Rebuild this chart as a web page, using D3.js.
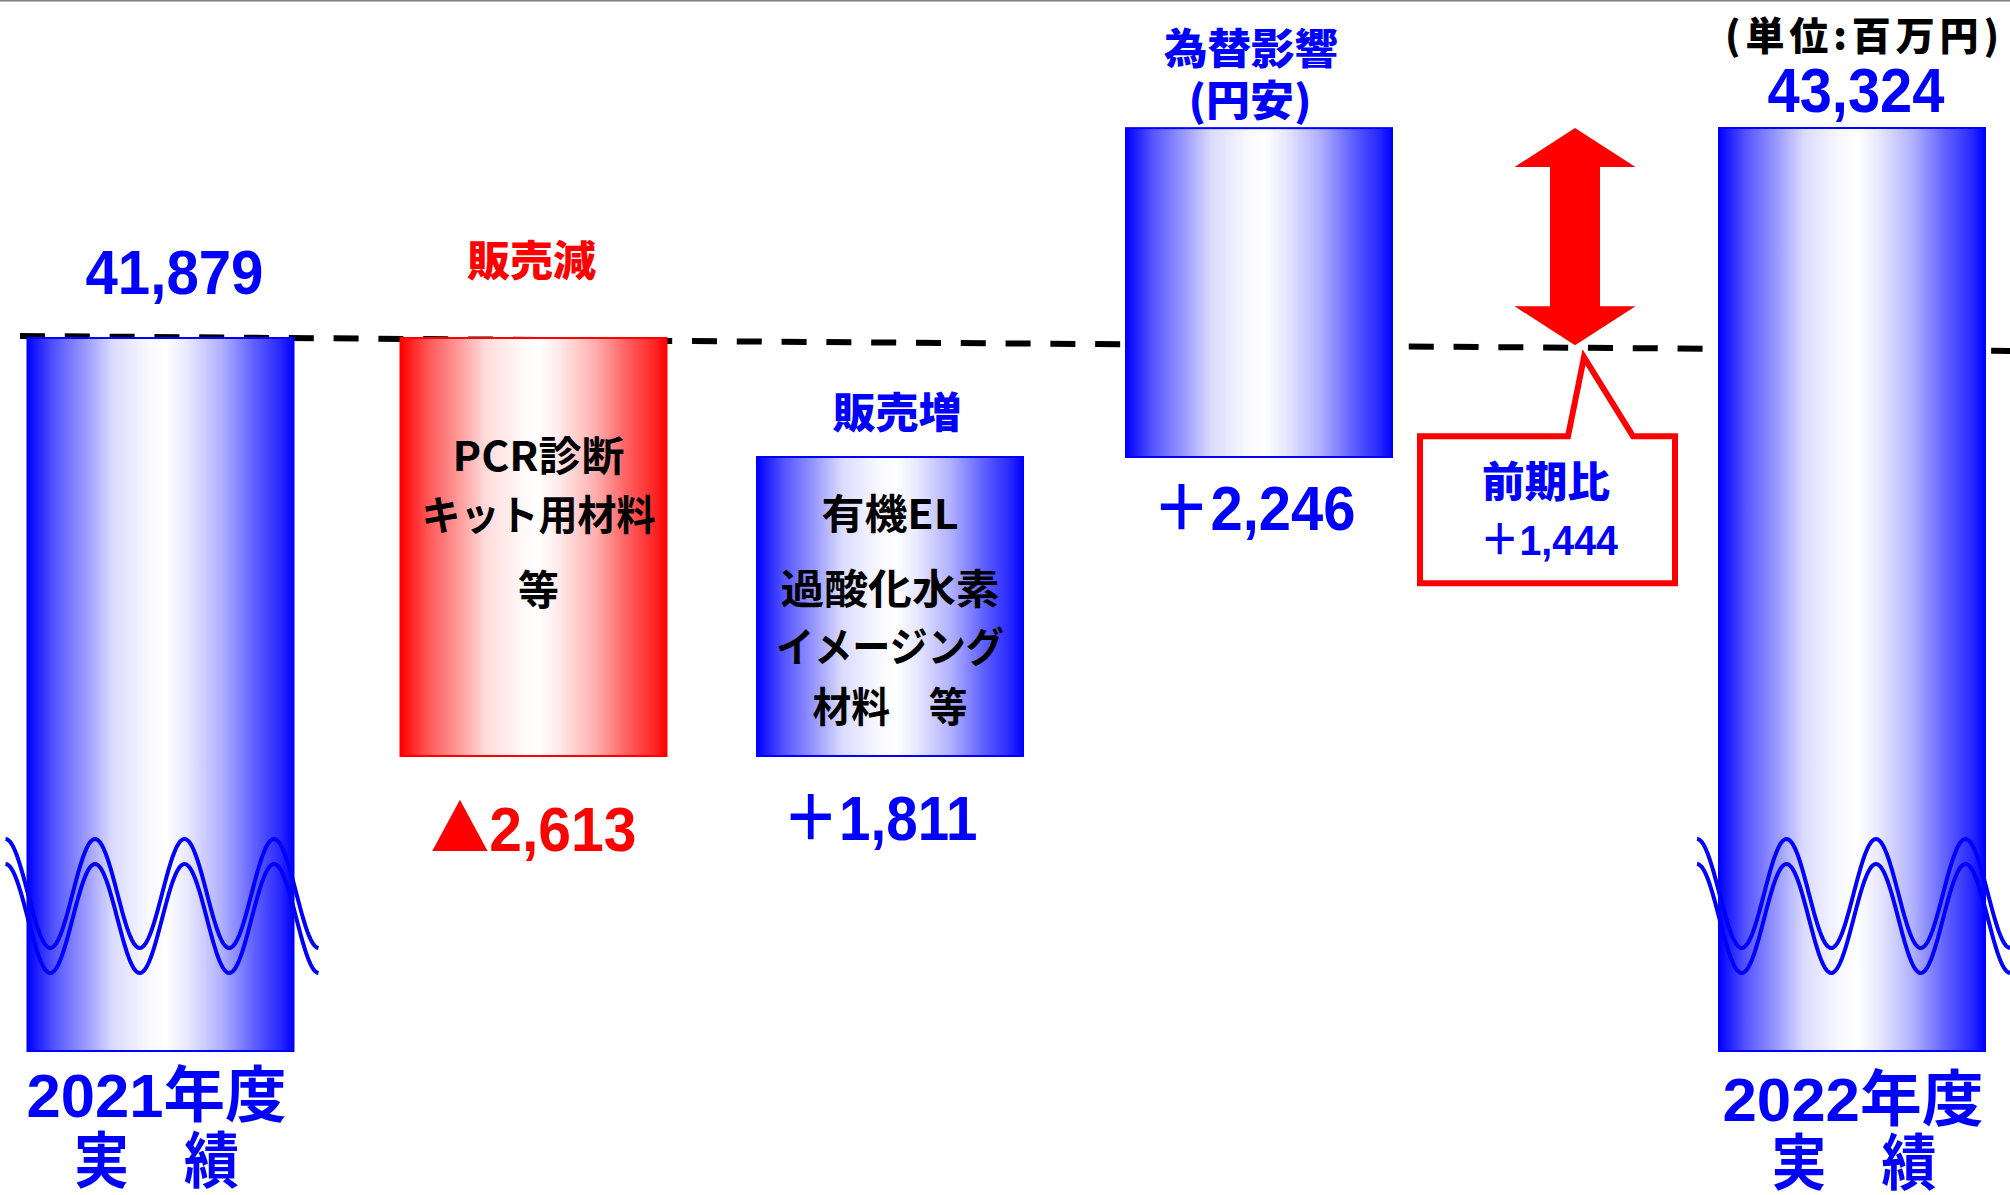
<!DOCTYPE html>
<html><head><meta charset="utf-8">
<script src="https://cdn.jsdelivr.net/npm/d3@7"></script>
<style>html,body{margin:0;padding:0;background:#fff;overflow:hidden}</style>
</head><body>
<svg id="c" width="2010" height="1195"></svg>
<script>
// ---------------- data ----------------
const categories   = ["2021年度実績", "販売減", "販売増", "為替影響", "2022年度実績"];
const kinds        = ["total", "delta", "delta", "delta", "total"];
const values       = [41879, -2613, 1811, 2246, 43324];
const valueLabels  = ["41,879", "▲2,613", "＋1,811", "＋2,246", "43,324"];
const headerLabels = [[], ["販売減"], ["販売増"], ["為替影響", "(円安)"], []];
const bottomLabels = [["2021年度", "実　績"], [], [], [], ["2022年度", "実　績"]];
const detailLines  = [[], ["PCR診断", "キット用材料", "等"], ["有機EL", "過酸化水素", "イメージング", "材料　等"], [], []];
const changeLabels = ["前期比", "＋1,444"];
const unitLabel    = "(単位:百万円)";

// ---------------- layout / style ----------------
const W = 2010, H = 1195;
const BLUE = "#0000ff", RED = "#ff0000";
const NUM_FONT = "'Liberation Sans','Arial','Noto Sans CJK JP',sans-serif";
const CJK_FONT = "'Noto Sans CJK JP','Noto Sans CJK SC',sans-serif";
const barW = 266;
const brokenBase = 1051;
const valuePos = [
  {dx: 14, dy: -44, at: "top", len: 178},
  {dx: 0,  dy: 95,  at: "bottom", len: 206},
  {dx: -10, dy: 84, at: "bottom", len: 195},
  {dx: -5, dy: 73,  at: "bottom", len: 203},
  {dx: 4,  dy: -16, at: "top", len: 177}
];
const headerPos = [
  [], [{dx: -2, dy: -62, len: 129, size: 42}],
  [{dx: 7, dy: -29, len: 129, size: 42}],
  [{dx: -8, dy: -64, len: 174, size: 42}, {dx: -9, dy: -12, len: 123, size: 42}], []
];
const detailPos = [
  [], [{dx: 5, dy: 133, len: 172}, {dx: 5, dy: 192, len: 234}, {dx: 5, dy: 267, len: 0}],
  [{dx: 0, dy: 72, len: 137}, {dx: 0, dy: 147, len: 219}, {dx: 0, dy: 205, len: 228}, {dx: 0, dy: 265, len: 155}],
  [], []
];
const bottomPos = [
  [{dx: -4, y: 1117, len: 260}, {dx: -4, y: 1183, len: 165}], [], [], [],
  [{dx: 1, y: 1121, len: 261}, {dx: 2, y: 1185, len: 165}]
];

// ---------------- waterfall ----------------
let run = 0;
const bars = categories.map((c, i) => {
  if (kinds[i] === "total") { run = values[i]; return {c, i, kind: "total", lo: null, hi: values[i]}; }
  const a = run, b = run + values[i]; run = b;
  return {c, i, kind: values[i] < 0 ? "down" : "up", lo: Math.min(a, b), hi: Math.max(a, b)};
});

// scales (hand-drawn original is not strictly proportional: piecewise linear)
const yScale = d3.scaleLinear()
  .domain([bars[1].lo, bars[2].hi, bars[0].hi, bars[4].hi])
  .range([756, 457, 338, 128]);
const xScale = d3.scaleOrdinal()
  .domain([...categories, changeLabels[0]])
  .range([160.5, 533.5, 890, 1259, 1852, 1575]);

const svg = d3.select("#c");
const defs = svg.append("defs");
function grad(id, col) {
  const g = defs.append("linearGradient").attr("id", id).attr("x1", 0).attr("x2", 1).attr("y1", 0).attr("y2", 0);
  const stops = [[0, 0], [0.1, 0.33], [0.23, 0.63], [0.32, 0.86], [0.45, 0.97], [0.52, 1], [0.6, 0.91], [0.73, 0.69], [0.85, 0.38], [0.95, 0.16], [1, 0]];
  stops.forEach(([o, t]) => g.append("stop").attr("offset", o).attr("stop-color", d3.interpolateRgb(col, "#ffffff")(t)));
}
grad("gBlue", BLUE); grad("gRed", RED);

svg.append("rect").attr("x", 0).attr("y", 0).attr("width", W).attr("height", 1.5).attr("fill", "#7f7f7f");

// reference dashed line at the 2021 level (slightly sloped as in the original)
const baseY = yScale(values[0]);
const dashY = x => baseY - 2 + (x - 20) / (W - 20) * 15;
svg.append("line").attr("x1", 20).attr("x2", W).attr("y1", dashY(20)).attr("y2", dashY(W))
  .attr("stroke", "#000").attr("stroke-width", 6).attr("stroke-dasharray", "25,19.8");

// bars
svg.selectAll("rect.bar").data(bars).join("rect").attr("class", "bar")
  .attr("x", d => xScale(d.c) - barW / 2)
  .attr("y", d => yScale(d.hi))
  .attr("width", barW)
  .attr("height", d => (d.lo === null ? brokenBase : yScale(d.lo)) - yScale(d.hi))
  .attr("fill", d => d.kind === "down" ? "url(#gRed)" : "url(#gBlue)")
  .attr("stroke", d => d.kind === "down" ? RED : BLUE)
  .attr("stroke-width", 2);

// broken-axis wave marks on total bars
const P = 89.5, A = 54.5;
bars.filter(d => d.kind === "total").forEach(d => {
  const x0 = xScale(d.c) - 155;
  [893.5, 918.5].forEach(mid => {
    const pts = d3.range(0, 3.5 * P + 0.01, 1).map(t => [x0 + t, mid - A * Math.cos(2 * Math.PI * t / P)]);
    svg.append("path").attr("d", d3.line()(pts)).attr("fill", "none").attr("stroke", BLUE).attr("stroke-width", 4);
  });
});

function txt(x, y, s, o) {
  const t = svg.append("text").attr("x", x).attr("y", y)
    .attr("text-anchor", o.anchor || "middle")
    .attr("font-family", o.font).attr("font-size", o.size).attr("font-weight", o.weight || 700)
    .attr("fill", o.fill);
  // symbols (▲, ＋) drawn from the CJK font so they are full-width and heavy
  s.split(/([▲＋])/).filter(p => p.length).forEach(p => {
    const ts = t.append("tspan").text(p);
    if (/^[▲＋]$/.test(p)) ts.attr("font-family", CJK_FONT);
  });
  if (o.len) t.attr("textLength", o.len).attr("lengthAdjust", o.adjust || "spacingAndGlyphs");
  return t;
}

// value labels
bars.forEach((d, i) => {
  const p = valuePos[i];
  const ref = p.at === "top" ? yScale(d.hi) : (d.lo === null ? brokenBase : yScale(d.lo));
  txt(xScale(d.c) + p.dx, ref + p.dy, valueLabels[i], {font: NUM_FONT, size: 63, len: p.len, fill: d.kind === "down" ? RED : BLUE});
});
// headers
bars.forEach((d, i) => headerLabels[i].forEach((s, k) => {
  const p = headerPos[i][k];
  txt(xScale(d.c) + p.dx, yScale(d.hi) + p.dy, s, {font: CJK_FONT, size: p.size, len: p.len, weight: 900, fill: d.kind === "down" ? RED : BLUE});
}));
// details inside bars
bars.forEach((d, i) => detailLines[i].forEach((s, k) => {
  const p = detailPos[i][k];
  txt(xScale(d.c) + p.dx, yScale(d.hi) + p.dy, s, {font: CJK_FONT, size: 41, len: p.len, fill: "#000"});
}));
// category labels under total bars
bars.forEach((d, i) => bottomLabels[i].forEach((s, k) => {
  const p = bottomPos[i][k];
  txt(xScale(d.c) + p.dx, p.y, s, {font: NUM_FONT, size: 61, len: p.len, weight: 700, fill: BLUE});
}));
// unit
txt(1999, 50, unitLabel, {font: CJK_FONT, size: 39, len: 274, adjust: "spacing", anchor: "end", weight: 900, fill: "#000"});

// double arrow: from final total down to the reference line
const ax = xScale(changeLabels[0]);
const aTop = yScale(values[4]), aBot = dashY(ax) - 2.5;
const hw = 60.5, sw = 25, hl = 39;
svg.append("polygon").attr("fill", RED).attr("points", [
  [ax, aTop], [ax + hw, aTop + hl], [ax + sw, aTop + hl], [ax + sw, aBot - hl], [ax + hw, aBot - hl],
  [ax, aBot], [ax - hw, aBot - hl], [ax - sw, aBot - hl], [ax - sw, aTop + hl], [ax - hw, aTop + hl]
].map(p => p.join(",")).join(" "));

// callout
const cTip = aBot + 12, cTop = cTip + 79, cBot = cTop + 147;
svg.append("path").attr("fill", "#fff").attr("stroke", RED).attr("stroke-width", 6).attr("stroke-linejoin", "miter")
  .attr("d", `M${ax - 7},${cTop} L${ax + 9},${cTip} L${ax + 58},${cTop} L${ax + 100},${cTop} L${ax + 100},${cBot} L${ax - 155},${cBot} L${ax - 155},${cTop} Z`);
txt(ax - 29, cTop + 61, changeLabels[0], {font: CJK_FONT, size: 42, len: 128, weight: 900, fill: BLUE});
txt(ax - 26, cTop + 119, changeLabels[1], {font: NUM_FONT, size: 43, len: 138, fill: BLUE});
</script>
</body></html>
